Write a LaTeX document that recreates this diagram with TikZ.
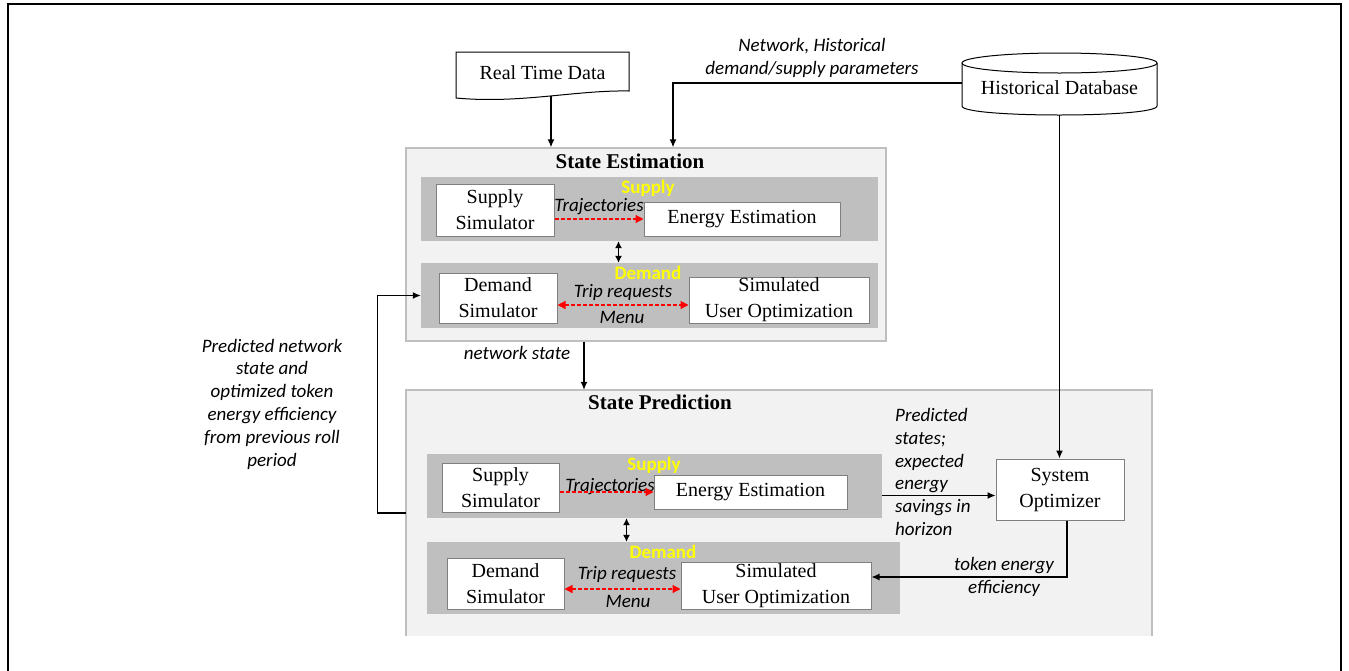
\documentclass[tikz,border=0pt]{standalone}
\usepackage{fontspec}
\setmainfont{Liberation Serif}
\newfontfamily\calibri{Carlito}
\usetikzlibrary{arrows.meta}
\definecolor{panelgray}{HTML}{F2F2F2}
\definecolor{panelline}{HTML}{BFBFBF}
\definecolor{bandgray}{HTML}{BFBFBF}
\definecolor{boxline}{HTML}{7F7F7F}
\definecolor{tagyellow}{HTML}{FFFF00}

\begin{document}
\begin{tikzpicture}[x=1pt, y=-1pt,
    panel/.style={fill=panelgray, draw=none, inner sep=0pt},
    band/.style={fill=bandgray, draw=none, inner sep=0pt},
    simbox/.style={fill=white, draw=boxline, line width=1pt, inner sep=0pt, align=center,
      font=\fontsize{20}{26}\selectfont},
    plain/.style={inner sep=0pt, font=\fontsize{20}{26}\selectfont},
    title/.style={inner sep=0pt, font=\fontsize{21}{25}\selectfont\bfseries},
    tag/.style={inner sep=0pt, text=tagyellow, font=\calibri\bfseries\fontsize{19}{20}\selectfont},
    note/.style={inner sep=0pt, align=center, font=\calibri\itshape\fontsize{19}{22.8}\selectfont},
    arr/.style={line width=1.2pt, -{Latex[length=8pt,width=7pt]}},
    dblarr/.style={line width=1.2pt, {Latex[length=7pt,width=7pt]}-{Latex[length=7pt,width=7pt]}},
    redarr/.style={red, line width=1.2pt, dash pattern=on 4pt off 2pt, -{Triangle[length=8pt,width=8pt]}},
    reddbl/.style={red, line width=1.2pt, dash pattern=on 4pt off 2pt,
      {Triangle[length=8pt,width=8pt]}-{Triangle[length=8pt,width=8pt]}}]
    \useasboundingbox (0,0) rectangle (1349,670);
    \draw[line width=2pt] (8,672) -- (8,4) -- (1341,4) -- (1341,672);

    \draw[line width=1pt] (456,52) -- (629,52) -- (629,91) .. controls (575,90) and (520,104) .. (456,98) -- cycle;
    \node[plain, minimum width=173pt, minimum height=46pt] (rtd) at (542.5,73) {Real Time Data};

    \draw[line width=1pt, fill=white] (962,63) -- (962,106) .. controls (962,118) and (1157,118) .. (1157,106) -- (1157,63);
    \draw[line width=1pt, fill=white] (1059.5,63) ellipse [x radius=97.5, y radius=10];
    \node[plain, minimum width=195pt, minimum height=54pt] (hdb) at (1059.5,88) {Historical Database};
    \node[note] (netnote) at (812,58) {Network, Historical\\demand/supply parameters};

    \node[panel, draw=panelline, line width=1.5pt, minimum width=480pt, minimum height=193pt] (se) at (646,244.5) {};
    \node[title] (setitle) at (630,161) {State Estimation};
    \node[band, minimum width=457pt, minimum height=64pt] (sesupband) at (649.5,209) {};
    \node[band, minimum width=457pt, minimum height=65pt] (sedemband) at (649.5,295.5) {};
    \node[simbox, minimum width=118pt, minimum height=52pt] (sesupsim) at (495,210) {Supply\\Simulator};
    \node[simbox, minimum width=196pt, minimum height=34pt] (seenergy) at (742,219) {Energy Estimation};
    \node[simbox, minimum width=118pt, minimum height=50pt] (sedemsim) at (498,298) {Demand\\Simulator};
    \node[simbox, minimum width=180pt, minimum height=46pt] (seuseropt) at (779,300) {Simulated\\User Optimization};
    \node[tag] (sesuptag) at (648,188) {Supply};
    \node[tag] (sedemtag) at (648,273) {Demand};
    \node[note] (setraj) at (599,207) {Trajectories};
    \node[note] (setrip) at (623,292) {Trip requests};
    \node[note] (semenu) at (622,317) {Menu};
    \draw[redarr] (sesupsim.east |- seenergy.west) -- (seenergy.west);
    \draw[reddbl] ([yshift=-7pt]sedemsim.east) -- ([yshift=-7pt]sedemsim.east -| seuseropt.west);
    \draw[dblarr] ([xshift=-31pt]sesupband.south) -- ([xshift=-31pt]sedemband.north);

    \draw[arr] ([xshift=8.5pt]rtd.south) -- ([xshift=8.5pt]rtd.south |- se.north);
    \draw[arr] ([yshift=5pt]hdb.west) -| ([xshift=27pt]se.north);

    \node[panel, minimum width=746pt, minimum height=246pt] (sp) at (779,513) {};
    \draw[line width=1.5pt, panelline] (sp.south west) -- (sp.north west) -- (sp.north east) -- (sp.south east);
    \node[title] (sptitle) at (660,402) {State Prediction};
    \node[band, minimum width=455pt, minimum height=64pt] (spsupband) at (654.5,486) {};
    \node[band, minimum width=473pt, minimum height=72pt] (spdemband) at (663.5,578) {};
    \node[simbox, minimum width=117pt, minimum height=49pt] (spsupsim) at (500.5,487.5) {Supply\\Simulator};
    \node[simbox, minimum width=193pt, minimum height=34pt] (spenergy) at (750.5,492) {Energy Estimation};
    \node[simbox, minimum width=117pt, minimum height=51pt] (spdemsim) at (505.5,583.5) {Demand\\Simulator};
    \node[simbox, minimum width=190pt, minimum height=47pt] (spuseropt) at (776,585.5) {Simulated\\User Optimization};
    \node[tag] (spsuptag) at (654,465) {Supply};
    \node[tag] (spdemtag) at (663,552) {Demand};
    \node[note] (sptraj) at (610,487) {Trajectories};
    \node[note] (sptrip) at (627,574) {Trip requests};
    \node[note] (spmenu) at (628,601) {Menu};
    \draw[redarr] (spsupsim.east |- spenergy.west) -- (spenergy.west);
    \draw[reddbl] ([yshift=-5.5pt]spdemsim.east) -- ([yshift=-5.5pt]spdemsim.east -| spuseropt.west);
    \draw[dblarr] ([xshift=-28pt]spsupband.south) -- ([xshift=-28pt]spsupband.south |- spdemband.north);

    \draw[arr] ([xshift=-62pt]se.south) -- ([xshift=-62pt]se.south |- sp.north);
    \node[note] (netstate) at (517,353) {network state};

    \node[simbox, minimum width=128pt, minimum height=61pt] (so) at (1060,489.5) {System\\Optimizer};
    \draw[arr] (hdb.south) -- (hdb.south |- so.north);
    \coordinate (soin) at ([yshift=-6pt]so.west);
    \draw[arr] (soin -| spsupband.east) -- (soin);
    \node[note, align=left, anchor=west] (prednote) at (895,472) {Predicted\\states;\\expected\\energy\\savings in\\horizon};
    \draw[arr] ([xshift=7pt]so.south) |- ([yshift=8.5pt]spuseropt.east);
    \node[note] (tokennote) at (1004,577) {token energy\\efficiency};

    \draw[arr] (sp.west) -- ++(-28,0) |- (sedemband.west);
    \node[note] (feednote) at (272,404) {Predicted network\\state and\\optimized token\\energy efficiency\\from previous roll\\period};
\end{tikzpicture}
\end{document}
